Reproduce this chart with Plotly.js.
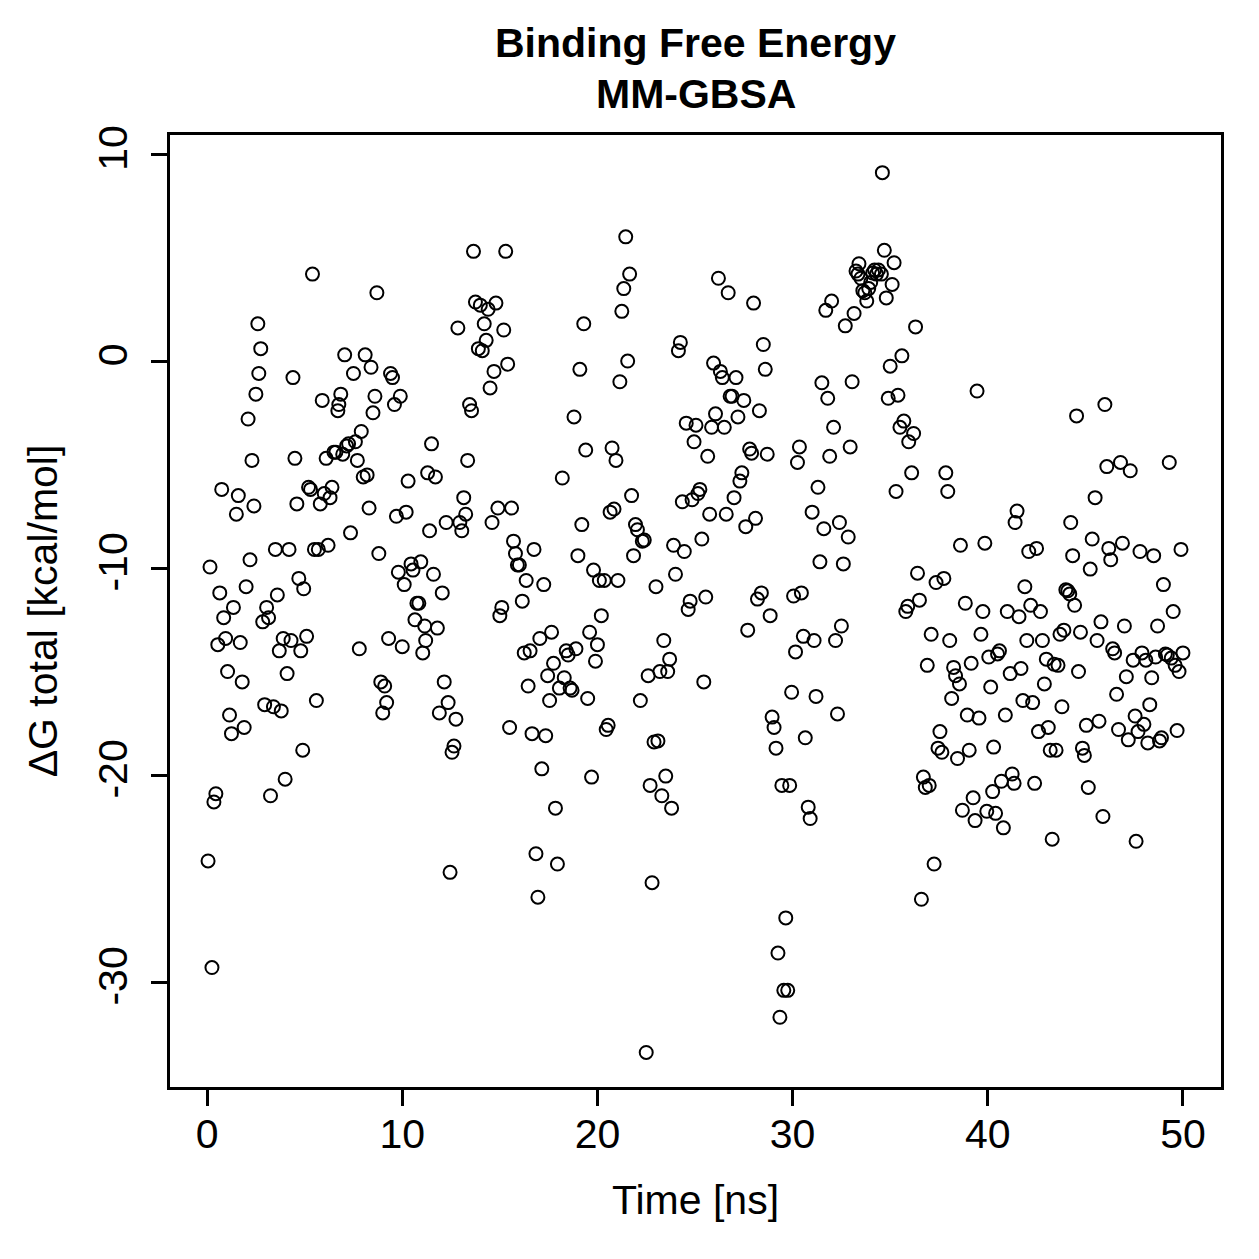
<!DOCTYPE html>
<html>
<head>
<meta charset="utf-8">
<script src="https://cdn.plot.ly/plotly-3.0.1.min.js"></script>
<style>html,body{margin:0;padding:0;background:#fff;}#chart{width:1259px;height:1259px;}</style>
</head>
<body>
<div id="chart"></div>
<script>
const timeNs = [0.05,0.25,0.15,0.35,0.45,0.55,0.65,0.75,0.85,0.95,1.05,1.15,1.25,1.35,1.5,1.6,1.7,1.8,1.9,2.0,
2.1,2.2,2.3,2.4,2.5,2.6,2.65,2.75,2.85,2.95,3.05,3.15,3.25,3.4,3.5,3.6,3.7,3.8,3.9,4.0,
4.1,4.2,4.3,4.4,4.5,4.6,4.7,4.8,4.9,4.95,5.1,5.2,5.3,5.4,5.5,5.6,5.7,5.8,5.9,6.0,
6.1,6.2,6.3,6.4,6.5,6.6,6.7,6.75,6.85,6.95,7.05,7.15,7.25,7.35,7.5,7.6,7.7,7.8,7.9,8.0,
8.1,8.2,8.3,8.4,8.5,8.6,8.7,8.8,8.9,9.0,9.1,9.2,9.3,9.4,9.5,9.6,9.7,9.8,9.9,10.0,
10.1,10.2,10.3,10.45,10.55,10.65,10.75,10.85,10.95,11.05,11.15,11.2,11.3,11.4,11.5,11.6,11.7,11.8,11.9,12.05,
12.15,12.25,12.35,12.45,12.55,12.65,12.75,12.85,12.95,13.05,13.15,13.25,13.35,13.45,13.55,13.65,13.75,13.9,14.0,14.1,
14.2,14.3,14.4,14.5,14.6,14.7,14.8,14.9,15.0,15.1,15.2,15.3,15.4,15.5,15.6,15.7,15.8,15.9,16.0,16.15,
16.25,16.35,16.45,16.55,16.65,16.75,16.85,16.95,17.05,17.15,17.25,17.35,17.45,17.55,17.65,17.75,17.85,17.95,18.05,18.2,
18.3,18.4,18.5,18.6,18.7,18.8,18.9,19.0,19.1,19.2,19.3,19.4,19.5,19.6,19.7,19.8,19.9,20.0,20.1,20.2,
20.35,20.45,20.55,20.65,20.75,20.85,20.95,21.05,21.15,21.25,21.35,21.45,21.55,21.65,21.75,21.85,21.95,22.05,22.2,22.3,
22.4,22.5,22.6,22.7,22.8,22.9,23.0,23.1,23.2,23.3,23.4,23.5,23.6,23.7,23.8,23.9,24.0,24.15,24.25,24.35,
24.45,24.55,24.65,24.75,24.85,24.95,25.05,25.15,25.25,25.35,25.45,25.55,25.65,25.75,25.85,25.95,26.05,26.2,26.3,26.4,
26.5,26.6,26.7,26.8,26.9,27.0,27.1,27.2,27.3,27.4,27.5,27.6,27.7,27.8,27.9,28.0,28.1,28.2,28.3,28.4,
28.5,28.6,28.7,28.85,28.95,29.05,29.15,29.25,29.35,29.45,29.55,29.65,29.75,29.85,29.95,30.05,30.15,30.25,30.35,30.45,
30.55,30.65,30.8,30.9,31.0,31.1,31.2,31.3,31.4,31.5,31.6,31.7,31.8,31.9,32.0,32.1,32.2,32.3,32.4,32.5,
32.6,32.7,32.85,32.95,33.05,33.15,33.25,33.35,33.4,33.5,33.6,33.7,33.8,33.9,34.0,34.1,34.2,34.3,34.4,34.55,
34.6,34.7,34.8,34.9,35.0,35.1,35.2,35.3,35.4,35.5,35.6,35.7,35.8,35.9,35.95,36.1,36.2,36.3,36.4,36.5,
36.6,36.7,36.8,36.9,37.0,37.1,37.25,37.35,37.45,37.55,37.65,37.75,37.85,37.95,38.05,38.15,38.25,38.35,38.45,38.55,
38.6,38.7,38.85,38.95,39.05,39.15,39.25,39.35,39.45,39.55,39.65,39.75,39.85,39.95,40.05,40.15,40.25,40.3,40.4,40.5,
40.6,40.7,40.8,40.9,41.0,41.15,41.25,41.35,41.4,41.5,41.6,41.7,41.8,41.9,42.0,42.1,42.2,42.3,42.4,42.5,
42.6,42.7,42.8,42.9,43.0,43.1,43.2,43.3,43.4,43.5,43.6,43.7,43.8,43.9,44.0,44.1,44.2,44.25,44.35,44.45,
44.55,44.65,44.75,44.85,44.95,45.05,45.15,45.25,45.35,45.5,45.6,45.7,45.8,45.9,46.0,46.1,46.2,46.3,46.4,46.5,
46.6,46.7,46.8,46.9,47.0,47.1,47.2,47.3,47.45,47.55,47.6,47.7,47.8,47.9,48.0,48.1,48.2,48.3,48.4,48.5,
48.6,48.7,48.8,48.9,49.0,49.1,49.2,49.3,49.4,49.5,49.6,49.7,49.8,49.9,50.0];

const dgTotal = [-24.15,-29.3,-9.95,-21.3,-20.9,-13.7,-11.2,-6.2,-12.4,-13.4,-15.0,-17.1,-18.0,-11.9,-7.4,-6.5,-13.6,-15.5,-17.7,-10.9,
-2.8,-9.6,-4.8,-7.0,-1.6,1.8,-0.6,0.6,-12.6,-16.6,-11.9,-12.4,-21.0,-16.7,-9.1,-11.3,-14.0,-16.9,-13.4,-20.2,
-15.1,-9.1,-13.5,-0.8,-4.7,-6.9,-10.5,-14.0,-18.8,-11.0,-13.3,-6.1,-6.2,4.2,-9.1,-16.4,-9.1,-6.9,-1.9,-6.4,
-4.7,-8.9,-6.6,-6.1,-4.4,-4.4,-2.4,-2.1,-1.6,-4.5,0.3,-4.1,-4.0,-8.3,-0.6,-3.9,-4.8,-13.9,-3.4,-5.6,
0.3,-5.5,-7.1,-0.3,-2.5,-1.7,3.3,-9.3,-15.5,-17.0,-15.7,-16.5,-13.4,-0.6,-0.8,-2.1,-7.5,-10.2,-1.7,-13.8,
-10.8,-7.3,-5.8,-9.8,-10.1,-12.5,-11.7,-11.7,-9.7,-14.1,-12.8,-13.5,-5.4,-8.2,-4.0,-10.3,-5.6,-12.9,-17.0,-11.2,
-15.5,-7.8,-16.5,-24.7,-18.9,-18.6,-17.3,1.6,-7.8,-8.2,-6.6,-7.4,-4.8,-2.1,-2.4,5.3,2.85,0.6,2.7,0.5,
1.8,1.0,2.5,-1.3,-7.8,-0.5,2.8,-7.1,-12.3,-11.9,1.5,5.3,-0.15,-17.7,-7.1,-8.7,-9.3,-9.85,-9.85,-11.6,
-14.1,-10.6,-15.7,-14.0,-18.0,-9.1,-23.8,-25.9,-13.4,-19.7,-10.8,-18.1,-15.2,-16.4,-13.1,-14.6,-21.6,-24.3,-15.8,-5.65,
-15.3,-14.0,-14.2,-15.8,-15.9,-2.7,-13.9,-9.4,-0.4,-7.9,1.8,-4.3,-16.3,-13.1,-20.1,-10.1,-14.5,-13.7,-10.6,-12.3,
-10.6,-17.8,-17.6,-7.3,-4.2,-7.15,-4.8,-10.6,-1.0,2.4,3.5,6.0,0.0,4.2,-6.5,-9.4,-7.9,-8.15,-16.4,-8.7,
-8.65,-33.4,-15.2,-20.5,-25.2,-18.4,-10.9,-18.35,-15.0,-21.0,-13.5,-20.05,-15.0,-14.4,-21.6,-8.9,-10.3,0.5,0.9,-6.8,
-9.2,-3.0,-12.0,-11.6,-6.7,-3.9,-3.1,-6.4,-6.2,-8.6,-15.5,-11.4,-4.6,-7.4,-3.2,-0.1,-2.55,4.0,-0.5,-0.8,
-3.2,-7.4,3.3,-1.7,-1.7,-6.6,-0.8,-2.7,-5.8,-5.4,-1.9,-8.0,-13.0,-4.25,-4.45,2.8,-7.6,-11.5,-2.4,-11.2,
0.8,-0.4,-4.5,-12.3,-17.2,-17.7,-18.7,-28.6,-31.7,-20.5,-30.4,-26.9,-30.4,-20.5,-16.0,-11.35,-14.05,-4.9,-4.15,-11.2,
-13.3,-18.2,-21.55,-22.1,-7.3,-13.5,-16.2,-6.1,-9.7,-1.05,-8.1,2.45,-1.8,-4.6,2.9,-3.2,-13.5,-17.05,-7.8,-12.8,
-9.8,1.7,-8.5,-4.15,-1.0,2.3,4.35,4.2,4.7,4.0,3.4,3.3,2.9,3.5,3.8,4.25,4.4,4.2,4.4,4.2,
9.1,5.35,3.05,-1.8,-0.25,3.7,4.75,-6.3,-1.65,-3.2,0.25,-2.9,-12.1,-11.85,-3.9,-5.4,-3.5,1.65,-10.25,-11.55,
-26.0,-20.1,-20.6,-14.7,-20.5,-13.2,-24.3,-10.7,-18.7,-17.9,-18.9,-10.5,-5.4,-6.3,-13.5,-16.3,-14.8,-15.2,-19.2,-15.6,
-8.9,-21.7,-11.7,-17.1,-18.8,-14.6,-21.1,-22.2,-1.45,-17.25,-13.2,-12.1,-8.8,-21.75,-14.3,-15.75,-20.8,-18.65,-21.85,-14.15,
-14.0,-20.3,-22.55,-17.1,-12.1,-15.1,-19.95,-20.4,-7.8,-7.25,-12.35,-14.85,-16.4,-10.9,-13.5,-9.2,-11.8,-16.5,-20.4,-9.05,
-17.9,-12.1,-13.5,-15.6,-14.4,-17.7,-18.8,-23.1,-14.65,-18.8,-14.7,-13.2,-16.7,-13.0,-11.05,-11.1,-11.25,-7.8,-9.4,-11.8,
-2.65,-15.0,-13.1,-18.7,-19.05,-17.6,-20.6,-10.05,-8.6,-6.6,-13.5,-17.4,-12.6,-22.0,-2.1,-5.1,-9.05,-9.6,-13.9,-14.1,
-16.1,-17.8,-4.9,-8.8,-12.8,-15.25,-18.3,-5.3,-14.45,-17.15,-23.2,-17.9,-9.2,-14.1,-17.55,-14.45,-18.45,-16.6,-15.3,-9.4,
-14.3,-12.8,-18.35,-18.2,-10.8,-14.15,-14.2,-4.9,-14.35,-12.1,-14.7,-17.85,-15.0,-9.1,-14.1];

const xTicks = [0, 10, 20, 30, 40, 50];
const yTicks = [-30, -20, -10, 0, 10];
const titleLine1 = "Binding Free Energy";
const titleLine2 = "MM-GBSA";
const xLabel = "Time [ns]";
const yLabel = "ΔG total [kcal/mol]";

const FONT = "Liberation Sans, Arial, Helvetica, sans-serif";

const trace = {
  x: timeNs,
  y: dgTotal,
  type: "scatter",
  mode: "markers",
  marker: {symbol: "circle-open", size: 13, color: "#000", line: {width: 2, color: "#000"}},
  hoverinfo: "x+y"
};

const layout = {
  width: 1259, height: 1259,
  paper_bgcolor: "#fff", plot_bgcolor: "#fff",
  margin: {l: 170, r: 38, t: 135, b: 172},
  showlegend: false,
  font: {family: FONT, color: "#000", size: 41},
  xaxis: {
    range: [-1.9, 51.95],
    tickmode: "array", tickvals: xTicks, ticktext: xTicks.map(String),
    ticks: "outside", ticklen: 16, tickwidth: 3, tickcolor: "#000",
    ticklabelstandoff: -7,
    showline: true, mirror: true, linewidth: 3, linecolor: "#000",
    showgrid: false, zeroline: false,
    tickfont: {family: FONT, size: 41, color: "#000"},
    title: {text: xLabel, font: {family: FONT, size: 41, color: "#000"}, standoff: 30}
  },
  yaxis: {
    range: [-35.07, 10.92],
    tickmode: "array", tickvals: yTicks, ticktext: yTicks.map(String),
    tickangle: -90,
    ticks: "outside", ticklen: 16, tickwidth: 3, tickcolor: "#000",
    ticklabelstandoff: 8,
    showline: true, mirror: true, linewidth: 3, linecolor: "#000",
    showgrid: false, zeroline: false,
    tickfont: {family: FONT, size: 41, color: "#000"},
    title: {text: yLabel, font: {family: FONT, size: 41, color: "#000"}, standoff: 20}
  },
  annotations: [
    {text: "<b>" + titleLine1 + "</b>", xref: "paper", yref: "paper", x: 0.5, y: 1.0966,
     xanchor: "center", yanchor: "middle", showarrow: false, font: {family: FONT, size: 41, color: "#000"}},
    {text: "<b>" + titleLine2 + "</b>", xref: "paper", yref: "paper", x: 0.5, y: 1.0431,
     xanchor: "center", yanchor: "middle", showarrow: false, font: {family: FONT, size: 41, color: "#000"}}
  ]
};

Plotly.newPlot("chart", [trace], layout, {displayModeBar: false, staticPlot: true});
</script>
</body>
</html>
